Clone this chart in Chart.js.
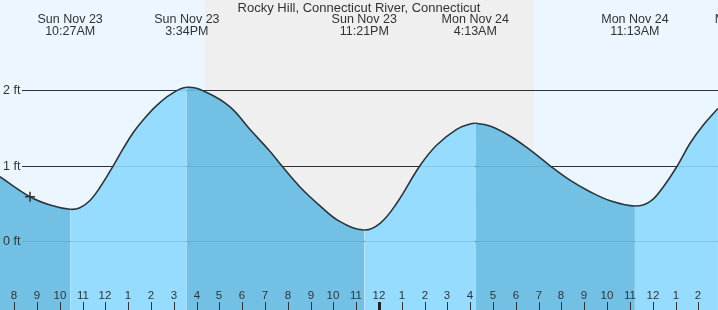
<!DOCTYPE html>
<html>
<head>
<meta charset="utf-8">
<script src="https://cdn.jsdelivr.net/npm/chart.js@4/dist/chart.umd.min.js"></script>
<style>
  html, body { margin: 0; padding: 0; background: #fff; }
  #tide-chart { display: block; }
</style>
</head>
<body>
<canvas id="tide-chart" width="718" height="310"></canvas>
<script>
const TITLE = "Rocky Hill, Connecticut River, Connecticut";

// hours counted from midnight, Sun Nov 23 (24 = midnight Mon Nov 24), heights in feet
const hours = [
  7.37, 8.69, 9.57, 10.45, 10.88, 11.32, 11.76, 12.34, 12.78, 13.22, 13.66, 14.25, 14.83,
  15.57, 16.44, 17.46, 18.34, 19.22, 19.73, 20.53, 21.41, 22.29, 23.35, 24.04, 24.77,
  25.79, 26.53, 27.4, 27.99, 28.22, 28.86, 29.74, 30.62, 31.5, 32.37, 33.25, 34.13,
  35.22, 35.88, 36.47, 37.08, 37.64, 38.22, 38.86
];
const heights = [
  0.856, 0.59, 0.48, 0.424, 0.445, 0.54, 0.715, 1.0, 1.23, 1.44, 1.61, 1.8, 1.94,
  2.04, 1.97, 1.78, 1.48, 1.19, 1.0, 0.72, 0.47, 0.26, 0.15, 0.238, 0.503,
  1.0, 1.275, 1.483, 1.553, 1.563, 1.527, 1.395, 1.21, 1.0, 0.81, 0.657, 0.538,
  0.467, 0.525, 0.723, 1.0, 1.298, 1.54, 1.76
];

const eventHours = [10.45, 15.57, 23.35, 28.22, 35.22, 40.2];
const eventDays = ["Sun Nov 23", "Sun Nov 23", "Sun Nov 23", "Mon Nov 24", "Mon Nov 24", "Mon Nov 24"];
const eventTimes = ["10:27AM", "3:34PM", "11:21PM", "4:13AM", "11:13AM", "4:12PM"];

const nowHour = 8.69;
const nowHeight = 0.59;

const sunsetHour = 16.36;
const sunriseHour = 30.79;

const tickHours = [
  8, 9, 10, 11, 12, 13, 14, 15, 16, 17, 18, 19, 20, 21, 22, 23, 24,
  25, 26, 27, 28, 29, 30, 31, 32, 33, 34, 35, 36, 37, 38
];
const tickLabels = [
  "8", "9", "10", "11", "12", "1", "2", "3", "4", "5", "6", "7", "8", "9", "10", "11", "12",
  "1", "2", "3", "4", "5", "6", "7", "8", "9", "10", "11", "12", "1", "2"
];

const gridFeet = [0, 1, 2];
const gridLabels = ["0 ft", "1 ft", "2 ft"];

const DAY_COLOR = "#ebf6ff";
const NIGHT_COLOR = "#efefef";
const RISE_COLOR = "#96dcff";
const FALL_COLOR = "#72c1e5";
const INK = "#333";
const FAMILY = "'Liberation Sans', Arial, sans-serif";

const tidePoints = hours.map((h, i) => ({ x: h, y: heights[i] }));

const tideDecor = {
  id: "tideDecor",
  beforeDatasetsDraw(chart) {
    const { ctx, chartArea, scales: { x, y } } = chart;
    ctx.save();
    ctx.fillStyle = DAY_COLOR;
    ctx.fillRect(chartArea.left, chartArea.top, chartArea.width, chartArea.height);
    const n0 = x.getPixelForValue(sunsetHour);
    const n1 = x.getPixelForValue(sunriseHour);
    ctx.fillStyle = NIGHT_COLOR;
    ctx.fillRect(n0, chartArea.top, n1 - n0, chartArea.height);

    ctx.strokeStyle = INK;
    ctx.lineWidth = 1;
    gridFeet.forEach((v) => {
      const py = Math.round(y.getPixelForValue(v)) + 0.5;
      ctx.beginPath();
      ctx.moveTo(22, py);
      ctx.lineTo(chartArea.right, py);
      ctx.stroke();
    });
    ctx.restore();
  },
  afterDatasetsDraw(chart) {
    const { ctx, chartArea, scales: { x, y } } = chart;
    ctx.save();

    // faint grid lines showing through the water
    ctx.strokeStyle = "rgba(0, 50, 90, 0.12)";
    ctx.lineWidth = 1;
    gridFeet.forEach((v) => {
      const py = Math.round(y.getPixelForValue(v)) + 0.5;
      ctx.beginPath();
      ctx.moveTo(22, py);
      ctx.lineTo(chartArea.right, py);
      ctx.stroke();
    });

    ctx.fillStyle = INK;
    ctx.textBaseline = "middle";

    ctx.font = "12.5px " + FAMILY;
    ctx.textAlign = "left";
    gridFeet.forEach((v, i) => {
      ctx.fillText(gridLabels[i], 3, Math.round(y.getPixelForValue(v)) + 0.5);
    });

    ctx.textAlign = "center";
    eventHours.forEach((h, i) => {
      const px = x.getPixelForValue(h);
      ctx.fillText(eventDays[i], px, 19.5);
      ctx.fillText(eventTimes[i], px, 31.5);
    });

    ctx.font = "13px " + FAMILY;
    ctx.fillText(TITLE, chartArea.width / 2, 8);

    ctx.font = "11.5px " + FAMILY;
    tickHours.forEach((h, i) => {
      const px = Math.round(x.getPixelForValue(h));
      ctx.fillText(tickLabels[i], px, 296);
      if (h % 24 === 0) {
        ctx.fillStyle = "#222";
        ctx.fillRect(px - 1, 302, 3, 8);
        ctx.fillStyle = INK;
      } else {
        ctx.fillRect(px, 302, 1, 8);
      }
    });
    ctx.restore();
  },
};

new Chart(document.querySelector("#tide-chart"), {
  type: "line",
  data: {
    datasets: [
      {
        data: [{ x: nowHour, y: nowHeight }],
        showLine: false,
        pointStyle: "cross",
        pointRadius: 5,
        borderColor: INK,
        borderWidth: 1.5,
        order: 0,
      },
      {
        data: tidePoints,
        borderColor: INK,
        borderWidth: 1.6,
        pointRadius: 0,
        tension: 0.4,
        fill: "start",
        backgroundColor: RISE_COLOR,
        segment: {
          backgroundColor: (ctx) => (ctx.p1.parsed.y < ctx.p0.parsed.y ? FALL_COLOR : RISE_COLOR),
        },
        order: 1,
      },
    ],
  },
  options: {
    responsive: false,
    animation: false,
    layout: { padding: 0, autoPadding: false },
    scales: {
      x: { type: "linear", min: 7.373, max: 38.864, display: false },
      y: { min: -0.91, max: 3.196, display: false },
    },
    plugins: {
      legend: { display: false },
      tooltip: { enabled: false },
    },
  },
  plugins: [tideDecor],
});
</script>
</body>
</html>
